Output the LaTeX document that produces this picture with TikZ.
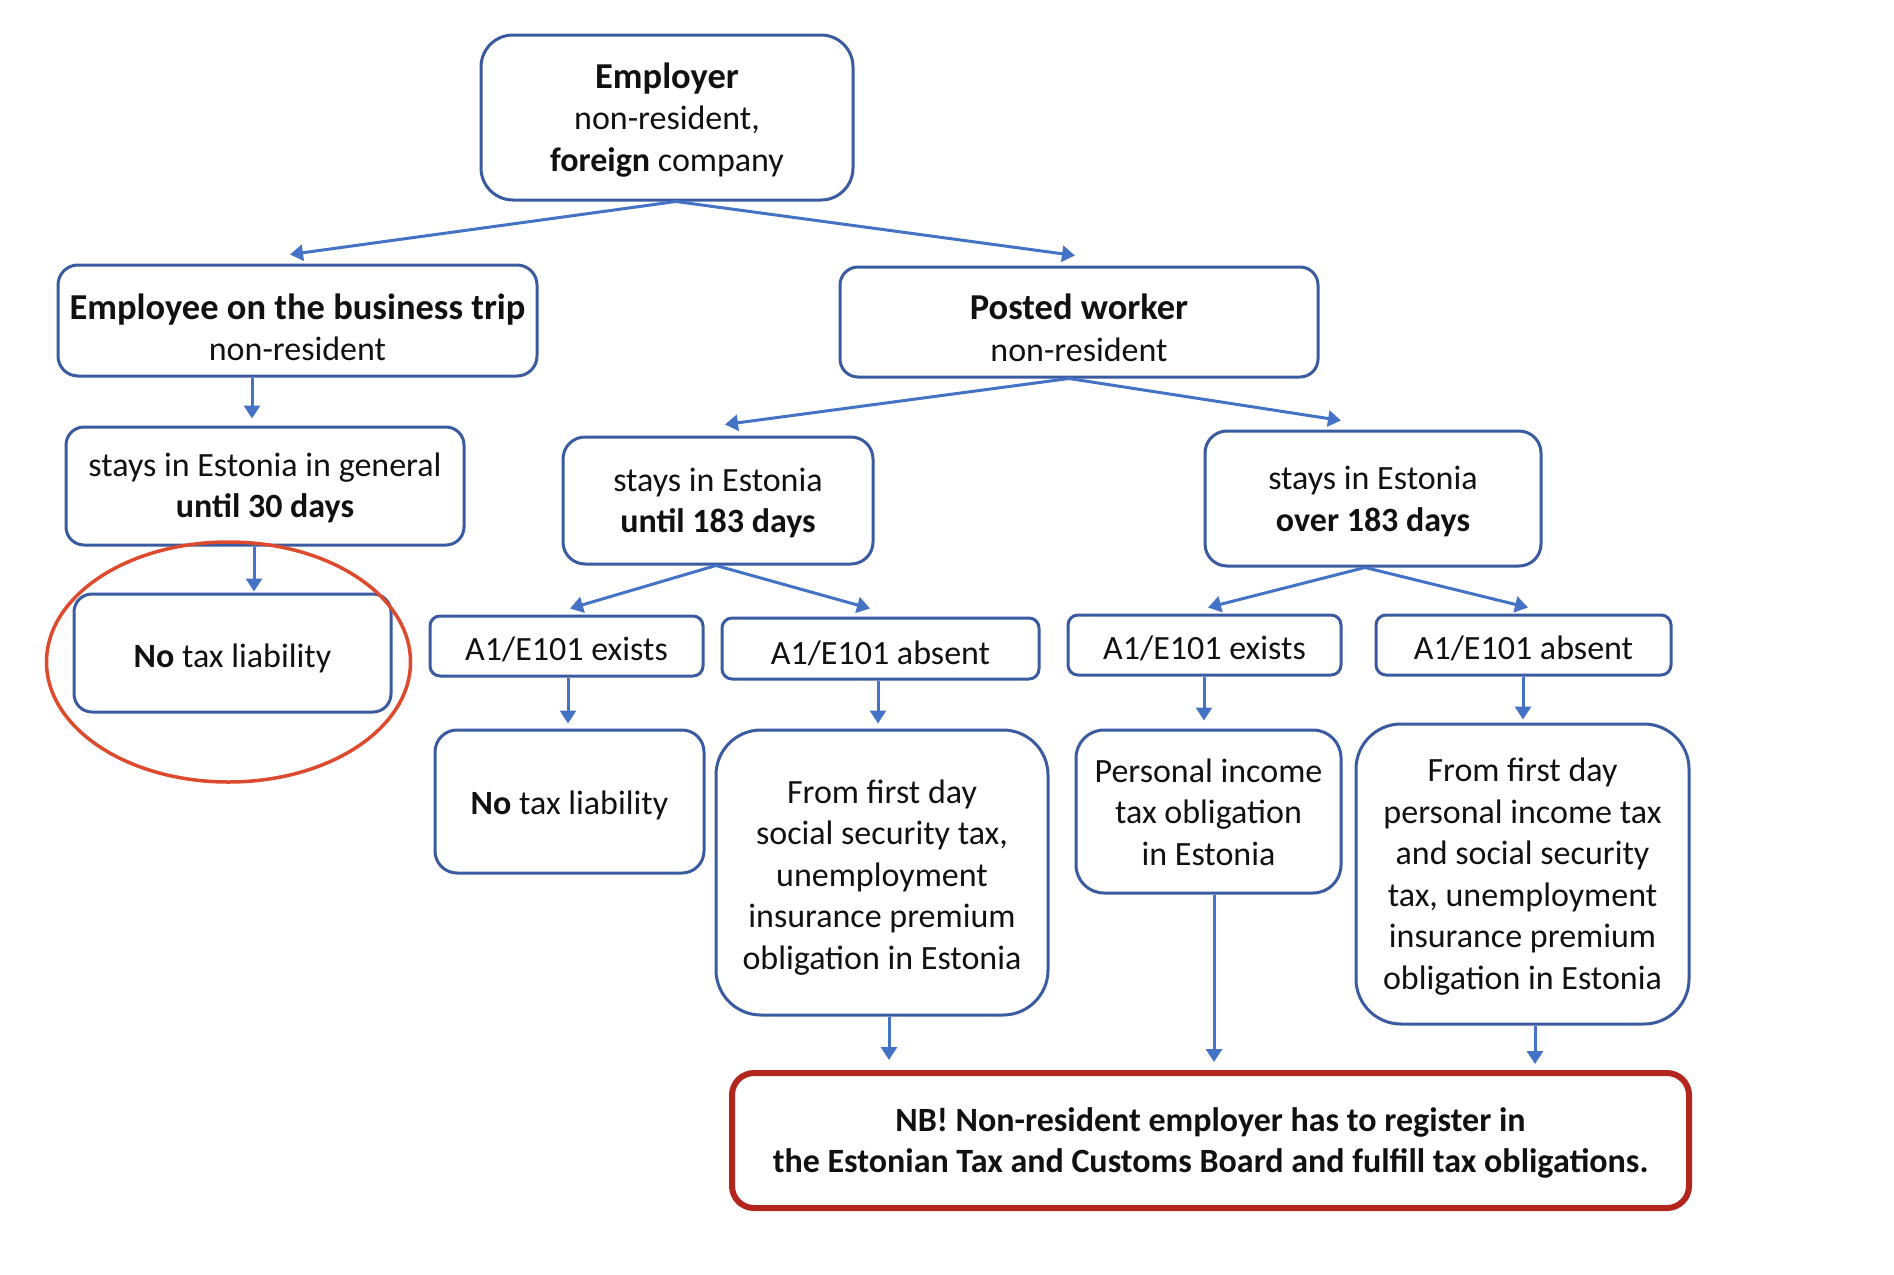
\documentclass[tikz,border=0pt]{standalone}
\usepackage{fontspec}
\setmainfont{Carlito}
\usetikzlibrary{arrows.meta,calc}
\definecolor{boxblue}{HTML}{3A5BA0}
\definecolor{arrblue}{HTML}{4472C4}
\definecolor{nbred}{HTML}{B3261E}
\definecolor{ellred}{HTML}{DD4A2E}
\definecolor{txt}{HTML}{111111}
\newcommand{\hdr}[1]{{\fontsize{36.5}{41.5}\selectfont\textbf{#1}}}
\begin{document}
\begin{tikzpicture}[x=1pt,y=-1pt,
 box/.style={draw=boxblue, line width=3pt, rounded corners=#1, inner sep=0pt},
 box/.default=18pt,
 tx/.style={align=center, text=txt, font=\fontsize{34}{41.5}\selectfont, inner sep=0pt},
 arr/.style={draw=arrblue, line width=3pt, -{Triangle[width=16pt,length=13pt]}}]
\useasboundingbox (0,0) rectangle (1894,1274);

% boxes
\node[box=32pt, minimum width=372pt, minimum height=165pt] (emp) at (667,117.5) {};
\node[box=20pt, minimum width=479pt, minimum height=111pt] (trip) at (297.5,320.5) {};
\node[box, minimum width=398pt, minimum height=118pt] (gen) at (265,486) {};
\node[box, minimum width=317pt, minimum height=118pt] (notaxa) at (232.5,653) {};
\node[box, minimum width=478pt, minimum height=110pt] (posted) at (1079,322) {};
\node[box=22pt, minimum width=310pt, minimum height=127pt] (until) at (718,500.5) {};
\node[box=22pt, minimum width=336pt, minimum height=135pt] (over) at (1373,498.5) {};
\node[box=10pt, minimum width=273pt, minimum height=60pt] (exa) at (566.5,646) {};
\node[box=10pt, minimum width=317pt, minimum height=61pt] (aba) at (880.5,648.5) {};
\node[box=10pt, minimum width=273pt, minimum height=60pt] (exb) at (1204.5,645) {};
\node[box=10pt, minimum width=295pt, minimum height=60pt] (abb) at (1523.5,645) {};
\node[box=22pt, minimum width=269pt, minimum height=143pt] (notaxb) at (569.5,801.5) {};
\node[box=45pt, minimum width=332pt, minimum height=285pt] (firsta) at (882,872.5) {};
\node[box=28pt, minimum width=265pt, minimum height=163pt] (pers) at (1208.5,811.5) {};
\node[box=45pt, minimum width=333pt, minimum height=300pt] (firstb) at (1522.5,874) {};
\node[box=22pt, draw=nbred, line width=6pt, minimum width=957pt, minimum height=135pt] (nb) at (1210.5,1140.5) {};

% texts
\node[tx] (emp-t) at ($(emp.center)+(0,2.5)$)
  {\hdr{Employer}\\non-resident,\\\textbf{foreign} company};
\node[tx] (trip-t) at ($(trip.center)+(0,7)$)
  {\hdr{Employee on the business trip}\\non-resident};
\node[tx] (gen-t) at ($(gen.center)+(0,2)$)
  {stays in Estonia in general\\\textbf{until 30 days}};
\node[tx] (notaxa-t) at ($(notaxa.center)+(0,5)$)
  {\textbf{No} tax liability};
\node[tx] (posted-t) at ($(posted.center)+(0,6)$)
  {\hdr{Posted worker}\\non-resident};
\node[tx] (until-t) at ($(until.center)+(0,2.5)$)
  {stays in Estonia\\\textbf{until 183 days}};
\node[tx] (over-t) at ($(over.center)+(0,3)$)
  {stays in Estonia\\\textbf{over 183 days}};
\node[tx] (exa-t) at ($(exa.center)+(0,3.5)$) {A1/E101 exists};
\node[tx] (aba-t) at ($(aba.center)+(0,4.5)$) {A1/E101 absent};
\node[tx] (exb-t) at ($(exb.center)+(0,3.5)$) {A1/E101 exists};
\node[tx] (abb-t) at ($(abb.center)+(0,3)$) {A1/E101 absent};
\node[tx] (notaxb-t) at ($(notaxb.center)+(0,3.5)$) {\textbf{No} tax liability};
\node[tx] (firsta-t) at ($(firsta.center)+(0,5)$)
  {From first day\\social security tax,\\unemployment\\insurance premium\\obligation in Estonia};
\node[tx] (pers-t) at ($(pers.center)+(0,0.5)$)
  {Personal income\\tax obligation\\in Estonia};
\node[tx] (firstb-t) at ($(firstb.center)+(0,2.5)$)
  {From first day\\personal income tax\\and social security\\tax, unemployment\\insurance premium\\obligation in Estonia};
\node[tx] (nb-t) at ($(nb.center)+(0,2.5)$)
  {\textbf{NB! Non-resident employer has to register in}\\\textbf{the Estonian Tax and Customs Board and fulfill tax obligations.}};

\draw[ellred, line width=3.5pt] (notaxa.center) ++(-4,9) ellipse [x radius=182, y radius=120];

% connectors
\draw[arr] (emp.south -| 676,0) -- ($(trip.north -| 290,0)+(0,-9)$);
\draw[arr] (emp.south -| 676,0) -- ($(posted.north -| 1075,0)+(0,-10)$);
\draw[arr] (trip.south -| 252,0) -- ($(gen.north -| 252,0)+(0,-7)$);
\draw[arr] (gen.south -| 254,0) -- ($(notaxa.north -| 254,0)+(0,-1)$);
\draw[arr] (posted.south -| 1069,0) -- ($(until.north -| 725,0)+(0,-11)$);
\draw[arr] (posted.south -| 1069,0) -- ($(over.north -| 1341,0)+(0,-9)$);
\draw[arr] (until.south -| 716,0) -- ($(exa.north -| 570,0)+(0,-6)$);
\draw[arr] (until.south -| 716,0) -- ($(aba.north -| 870,0)+(0,-8)$);
\draw[arr] (over.south -| 1365,0) -- ($(exb.north -| 1208,0)+(0,-6)$);
\draw[arr] (over.south -| 1365,0) -- ($(abb.north -| 1528,0)+(0,-6)$);
\draw[arr] (exa.south -| 568,0) -- ($(notaxb.north -| 568,0)+(0,-5)$);
\draw[arr] (aba.south -| 878,0) -- ($(firsta.north -| 878,0)+(0,-5)$);
\draw[arr] (exb.south -| 1204,0) -- ($(pers.north -| 1204,0)+(0,-8)$);
\draw[arr] (abb.south -| 1523,0) -- ($(firstb.north -| 1523,0)+(0,-3)$);
\draw[arr] (firsta.south -| 889,0) -- ($(nb.north -| 889,0)+(0,-10)$);
\draw[arr] (pers.south -| 1214,0) -- ($(nb.north -| 1214,0)+(0,-8)$);
\draw[arr] (firstb.south -| 1535,0) -- ($(nb.north -| 1535,0)+(0,-6)$);
\end{tikzpicture}
\end{document}
